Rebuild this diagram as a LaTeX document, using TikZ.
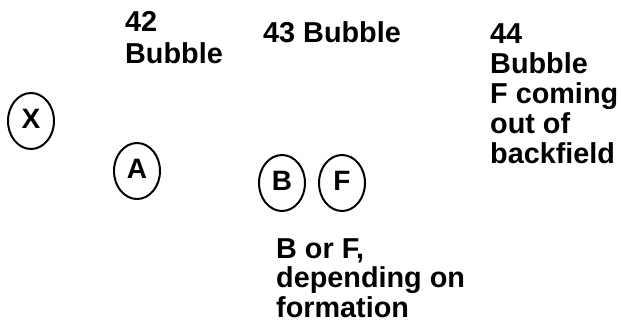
\documentclass[tikz,border=0pt]{standalone}
\usepackage{fontspec}
\setmainfont{Liberation Sans}
\usetikzlibrary{shapes.geometric}
\begin{document}
\begin{tikzpicture}[x=1pt,y=-1pt,
  player/.style={draw, line width=2pt, ellipse, inner sep=0pt,
    minimum width=46pt, minimum height=56pt,
    font=\fontsize{28}{30}\selectfont\bfseries,
    text height=20pt, text depth=6pt},
  lbl/.style={anchor=base west, inner sep=0pt, align=left},
  lbl42/.style={lbl, font=\fontsize{28.8}{31.5}\selectfont\bfseries},
  lbl44/.style={lbl, font=\fontsize{28.8}{30}\selectfont\bfseries},
  lblbf/.style={lbl, font=\fontsize{28.8}{29.5}\selectfont\bfseries}]
\useasboundingbox (0,0) rectangle (623,324);
\node[player] (X) at (31,121) {X};
\node[player] (A) at (137,171) {A};
\node[player] (B) at (282,183) {B};
\node[player] (F) at (342,183) {F};
\node[lbl42] (t42) at (125,63) {42\\Bubble};
\node[lbl44] (t43) at (263,42) {43 Bubble};
\node[lbl44] (t44) at (490,163) {44\\Bubble\\F coming\\out of\\backfield};
\node[lblbf] (tbf) at (276,317) {B or F,\\depending on\\formation};
\end{tikzpicture}
\end{document}
